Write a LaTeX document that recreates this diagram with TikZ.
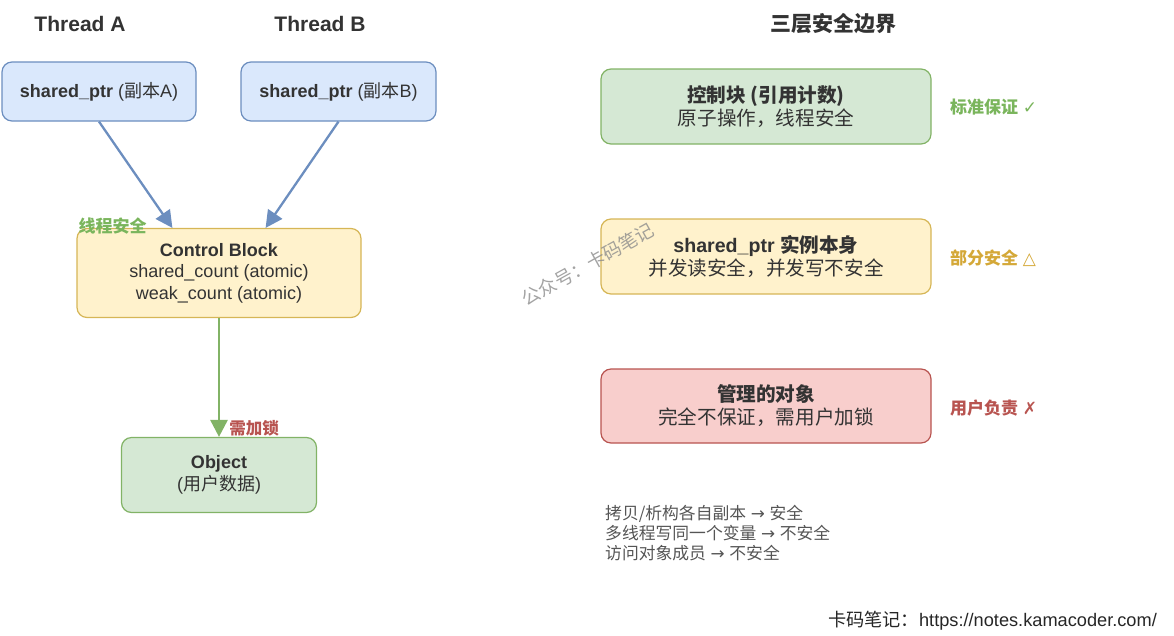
\documentclass[tikz,border=0pt]{standalone}
\usepackage{fontspec}
\setmainfont{Liberation Sans}
\newfontfamily\cjk{Noto Sans CJK SC}
\newfontfamily\sym{DejaVu Sans}
\usetikzlibrary{arrows.meta,calc}
\newcommand\zh[1]{{\cjk #1}}
\definecolor{txt}{HTML}{333333}
\definecolor{bfill}{HTML}{DAE8FC}\definecolor{bdraw}{HTML}{6C8EBF}
\definecolor{yfill}{HTML}{FFF2CC}\definecolor{ydraw}{HTML}{D6B656}
\definecolor{gfill}{HTML}{D5E8D4}\definecolor{gdraw}{HTML}{82B366}
\definecolor{rfill}{HTML}{F8CECC}\definecolor{rdraw}{HTML}{B85450}
\definecolor{glab}{HTML}{7AB55C}\definecolor{ylab}{HTML}{D4A838}\definecolor{rlab}{HTML}{B85450}
\definecolor{note}{HTML}{555555}
\begin{document}
\begin{tikzpicture}[x=1pt,y=-1pt,
  box/.style={rounded corners=10pt,draw,line width=1.2pt,align=center,text=txt,inner sep=0pt},
  title/.style={text=txt,font=\fontsize{21}{24}\selectfont\bfseries},
  conn/.style={line width=2.3pt,-{Triangle[length=17pt,width=17pt]}},
  lab/.style={font=\fontsize{17}{20}\selectfont\bfseries,inner sep=0pt},
  notes/.style={text=note,font=\fontsize{16.8}{20}\selectfont,align=left,anchor=north west,inner sep=0pt}]
\useasboundingbox (0,0) rectangle (1174,635);

% left titles
\node[title] (ta) at (80,24) {Thread A};
\node[title] (tb) at (320,24) {Thread B};

% left boxes
\node[box,fill=bfill,draw=bdraw,minimum width=194,minimum height=59,font=\fontsize{18}{21}\selectfont] (pa) at (99,91.5)
  {\textbf{shared\_ptr} (\zh{副本}A)};
\node[box,fill=bfill,draw=bdraw,minimum width=195,minimum height=59,font=\fontsize{18}{21}\selectfont] (pb) at (338.5,91.5)
  {\textbf{shared\_ptr} (\zh{副本}B)};
\node[box,fill=yfill,draw=ydraw,minimum width=284,minimum height=89,font=\fontsize{18}{21.5}\selectfont] (cb) at (219,273)
  {\textbf{Control Block}\\shared\_count (atomic)\\weak\_count (atomic)};
\node[box,fill=gfill,draw=gdraw,minimum width=195,minimum height=75,font=\fontsize{18}{22}\selectfont] (obj) at (219,475)
  {\textbf{Object}\\(\zh{用户数据})};

% connectors
\draw[conn,draw=bdraw,fill=bdraw] (pa.south) -- ($(cb.north west)+(96,0)$);
\draw[conn,draw=bdraw,fill=bdraw] (pb.south) -- ($(cb.north east)+(-96,0)$);
\draw[conn,draw=gdraw,fill=gdraw,line width=2.8pt] (cb.south) -- (obj.north);

\node[lab,text=glab] (lsafe) at (112.5,226) {\zh{\bfseries 线程安全}};
\node[lab,text=rlab,font=\fontsize{16.5}{20}\selectfont] (llock) at (254,428) {\zh{\bfseries 需加锁}};

% right side
\node[title] (t3) at (833,24) {\zh{\bfseries 三层安全边界}};

\node[box,fill=gfill,draw=gdraw,minimum width=330,minimum height=75,font=\fontsize{19.6}{23}\selectfont] (r1) at (766,106.5)
  {\zh{\bfseries 控制块 (引用计数)}\\\zh{原子操作，线程安全}};
\node[box,fill=yfill,draw=ydraw,minimum width=330,minimum height=75,font=\fontsize{19.6}{23}\selectfont] (r2) at (766,256.5)
  {\textbf{shared\_ptr} \zh{\bfseries 实例本身}\\\zh{并发读安全，并发写不安全}};
\node[box,fill=rfill,draw=rdraw,minimum width=330,minimum height=74,font=\fontsize{19.6}{23}\selectfont] (r3) at (766,406)
  {\zh{\bfseries 管理的对象}\\\zh{完全不保证，需用户加锁}};

\node[lab,text=glab,anchor=west] (l1) at (950,107) {\zh{\bfseries 标准保证} {\sym ✓}};
\node[lab,text=ylab,anchor=west] (l2) at (950,258) {\zh{\bfseries 部分安全} {\sym △}};
\node[lab,text=rlab,anchor=west] (l3) at (950,408) {\zh{\bfseries 用户负责} {\sym ✗}};

\node[notes] (nt) at (605,505)
  {\zh{拷贝/析构各自副本} {\sym →} \zh{安全}\\
   \zh{多线程写同一个变量} {\sym →} \zh{不安全}\\
   \zh{访问对象成员} {\sym →} \zh{不安全}};

\node[anchor=east,text=black!85,font=\fontsize{18.2}{20}\selectfont,inner sep=0pt] (foot) at (1157,621)
  {\zh{卡码笔记：}https://notes.kamacoder.com/};

% watermark
\node[text=black!45,opacity=0.8,rotate=29,font=\fontsize{18.5}{20}\selectfont,inner sep=0pt] (wm) at (588,264)
  {\zh{公众号：卡码笔记}};
\end{tikzpicture}
\end{document}
